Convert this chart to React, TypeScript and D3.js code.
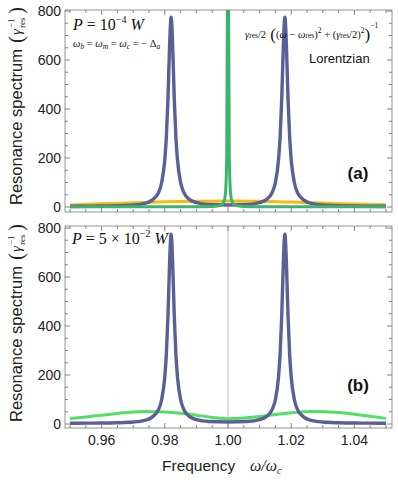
import React from 'react';
import * as d3 from 'd3';

// frequency samples (omega / omega_c) and spectra
const blueFreq = [0.95, 0.955, 0.96, 0.965, 0.97, 0.974, 0.976, 0.978, 0.979, 0.98, 0.9805, 0.981, 0.9815, 0.982, 0.9825, 0.983, 0.9835, 0.984, 0.985, 0.986, 0.988, 0.99, 0.994, 1.0, 1.006, 1.01, 1.012, 1.014, 1.015, 1.016, 1.0165, 1.017, 1.0175, 1.018, 1.0185, 1.019, 1.0195, 1.02, 1.021, 1.022, 1.024, 1.026, 1.03, 1.035, 1.04, 1.045, 1.05];
const blueVals = [3, 3.5, 4, 5, 8, 16, 28, 59, 99, 193, 287, 441, 652, 775, 652, 441, 287, 194, 100, 60, 29, 18, 10, 8, 10, 18, 29, 60, 100, 194, 287, 441, 652, 775, 652, 441, 287, 193, 99, 59, 28, 16, 8, 5, 4, 3.5, 3];

const greenAFreq = [0.95, 0.97, 0.98, 0.99, 0.995, 0.997, 0.998, 0.9985, 0.999, 0.9993, 0.9996, 0.9998, 1.0, 1.0002, 1.0004, 1.0007, 1.001, 1.0015, 1.002, 1.003, 1.005, 1.01, 1.02, 1.03, 1.05];
const greenAVals = [0.5, 0.6, 0.8, 1.2, 2.5, 5, 10, 17, 37, 75, 220, 800, 3000, 800, 220, 75, 37, 17, 10, 5, 2.5, 1.2, 0.8, 0.6, 0.5];

const yellowFreq = [0.95, 0.96, 0.97, 0.98, 0.99, 1.0, 1.01, 1.02, 1.03, 1.04, 1.05];
const yellowVals = [8, 13, 17, 21, 23, 24, 23, 20, 16, 12, 9];

const greenBFreq = [0.95, 0.955, 0.96, 0.965, 0.97, 0.974, 0.98, 0.985, 0.99, 0.995, 1.0, 1.005, 1.01, 1.015, 1.02, 1.0265, 1.035, 1.04, 1.045, 1.05];
const greenBVals = [22, 29, 36, 43, 49, 51, 49, 44, 36, 27, 21, 24, 31, 39, 46, 51, 47, 40, 32, 23];

const xTickLabels = [0.96, 0.98, 1.0, 1.02, 1.04];
const yTickLabels = [0, 200, 400, 600, 800];

const LEFT = 65;
const RIGHT = 392;
const sans = '"Liberation Sans", Arial, sans-serif';
const serif = '"Liberation Serif", "DejaVu Serif", serif';

const x = d3.scaleLinear().domain([0.95, 1.05]).range([70, 386]);

const zip = (f: number[], v: number[]) => f.map((d, i) => [d, v[i]] as [number, number]);

const Panel = ({ id, top, bottom, y0, y800, series, label, vline }: any) => {
  const y = d3.scaleLinear().domain([0, 800]).range([y0, y800]);
  const line = d3
    .line<[number, number]>()
    .x((d) => x(d[0]))
    .y((d) => y(d[1]))
    .curve(d3.curveMonotoneX);
  const xTicks = d3.range(0, 21).map((i) => 0.95 + i * 0.005);
  const yTicks = d3.range(0, 17).map((i) => i * 50);
  const isMajorX = (v: number) => xTickLabels.some((t) => Math.abs(t - v) < 1e-6);
  return (
    <g>
      <defs>
        <clipPath id={id}>
          <rect x={LEFT} y={top} width={RIGHT - LEFT} height={bottom - top} />
        </clipPath>
      </defs>
      {vline && (
        <line x1={x(1)} x2={x(1)} y1={top} y2={bottom} stroke="#b0b0b0" strokeWidth={0.8} />
      )}
      <g clipPath={`url(#${id})`}>
        {series.map((s: any, i: number) => (
          <path key={i} d={line(zip(s.freq, s.vals)) || ''} fill="none" stroke={s.color}
            strokeWidth={s.width} strokeLinejoin="round" />
        ))}
      </g>
      <rect x={LEFT} y={top} width={RIGHT - LEFT} height={bottom - top} fill="none" stroke="#8a8a8a" strokeWidth={0.9} />
      {xTicks.map((v, i) => {
        const len = isMajorX(v) ? 5 : 3;
        return (
          <g key={'x' + i} stroke="#666" strokeWidth={0.8}>
            <line x1={x(v)} x2={x(v)} y1={bottom} y2={bottom - len} />
            <line x1={x(v)} x2={x(v)} y1={top} y2={top + len} />
          </g>
        );
      })}
      {yTicks.map((v, i) => {
        const len = v % 200 === 0 ? 5 : 3;
        return (
          <g key={'y' + i} stroke="#666" strokeWidth={0.8}>
            <line x1={LEFT} x2={LEFT + len} y1={y(v)} y2={y(v)} />
            <line x1={RIGHT} x2={RIGHT - len} y1={y(v)} y2={y(v)} />
          </g>
        );
      })}
      {yTickLabels.map((v) => (
        <text key={v} x={61} y={y(v) + 5} textAnchor="end" fontFamily={sans} fontSize={14} fill="#222">
          {v}
        </text>
      ))}
      <text x={358} y={label.y} textAnchor="middle" fontFamily={sans} fontSize={17} fontWeight="bold" fill="#111">
        {label.text}
      </text>
      <g transform={`translate(22,${y0 - 2}) rotate(-90)`}>
        <text x={0} y={0} fontFamily={sans} fontSize={16.5} fill="#222">
          Resonance spectrum
        </text>
        <text x={162} y={1} fontFamily={serif} fontSize={21} fill="#222">(</text>
        <text x={170} y={-1} fontFamily={serif} fontSize={15} fontStyle="italic" fill="#222">γ</text>
        <text x={177} y={-8} fontFamily={serif} fontSize={9} fill="#222">−1</text>
        <text x={177} y={3} fontFamily={serif} fontSize={9} fill="#222">res</text>
        <text x={191} y={1} fontFamily={serif} fontSize={21} fill="#222">)</text>
      </g>
    </g>
  );
};

const App = () => {
  const width = 398;
  const height = 482;
  return (
    <svg width={width} height={height} style={{ position: 'absolute', left: 0, top: 0, background: '#fff' }}>
      <Panel
        id="clipA"
        top={10}
        bottom={212}
        y0={207}
        y800={11}
        label={{ text: '(a)', y: 179 }}
        series={[
          { freq: yellowFreq, vals: yellowVals, color: '#fbb80e', width: 3 },
          { freq: blueFreq, vals: blueVals, color: '#5a5f97', width: 3.4 },
          { freq: greenAFreq, vals: greenAVals, color: '#3db46c', width: 3 },
        ]}
      />
      <Panel
        id="clipB"
        top={226}
        bottom={428}
        y0={424}
        y800={228}
        vline
        label={{ text: '(b)', y: 391 }}
        series={[
          { freq: greenBFreq, vals: greenBVals, color: '#52e064', width: 3 },
          { freq: blueFreq, vals: blueVals, color: '#5a5f97', width: 3.4 },
        ]}
      />
      {/* x tick labels */}
      {xTickLabels.map((v) => (
        <text key={v} x={x(v)} y={445} textAnchor="middle" fontFamily={sans} fontSize={14} fill="#222">
          {v.toFixed(2)}
        </text>
      ))}
      <text x={162} y={471} fontFamily={sans} fontSize={15.5} fill="#222">Frequency</text>
      <text x={250} y={471} fontFamily={serif} fontSize={16} fontStyle="italic" fill="#222">
        ω/ω<tspan fontSize={10} dy={3}>c</tspan>
      </text>

      {/* panel (a) annotations */}
      <text x={73} y={30} fontFamily={serif} fontSize={16} fill="#111">
        <tspan fontStyle="italic">P</tspan> = 10<tspan fontSize={10} dy={-7}>−4</tspan>
        <tspan dy={7} fontStyle="italic"> W</tspan>
      </text>
      <text x={73} y={47} fontFamily={serif} fontSize={10.5} fill="#111">
        <tspan fontStyle="italic">ω</tspan><tspan fontSize={7.5} fontStyle="italic" dy={2}>b</tspan>
        <tspan dy={-2}> = </tspan><tspan fontStyle="italic">ω</tspan><tspan fontSize={7.5} fontStyle="italic" dy={2}>m</tspan>
        <tspan dy={-2}> = </tspan><tspan fontStyle="italic">ω</tspan><tspan fontSize={7.5} fontStyle="italic" dy={2}>c</tspan>
        <tspan dy={-2}> = − Δ</tspan><tspan fontSize={7.5} fontStyle="italic" dy={2}>a</tspan>
      </text>
      <text x={245} y={38} fontFamily={serif} fontSize={10.5} fill="#111">
        <tspan fontStyle="italic">γ</tspan><tspan fontSize={7.5}>res</tspan>/2
        <tspan fontSize={17} dy={2}> (</tspan><tspan dy={-2}>(</tspan><tspan fontStyle="italic">ω</tspan> − <tspan fontStyle="italic">ω</tspan><tspan fontSize={7.5}>res</tspan>)<tspan fontSize={7.5} dy={-5}>2</tspan>
        <tspan dy={5}> + (</tspan><tspan fontStyle="italic">γ</tspan><tspan fontSize={7.5}>res</tspan>/2)<tspan fontSize={7.5} dy={-5}>2</tspan>
        <tspan fontSize={17} dy={7}>)</tspan><tspan fontSize={7.5} dy={-12}>−1</tspan>
      </text>
      <text x={309} y={63} fontFamily={sans} fontSize={13} fill="#111">Lorentzian</text>

      {/* panel (b) annotation */}
      <text x={72} y={244} fontFamily={serif} fontSize={16} fill="#111">
        <tspan fontStyle="italic">P</tspan> = 5 × 10<tspan fontSize={10} dy={-7}>−2</tspan>
        <tspan dy={7} fontStyle="italic"> W</tspan>
      </text>
    </svg>
  );
};

export default App;
